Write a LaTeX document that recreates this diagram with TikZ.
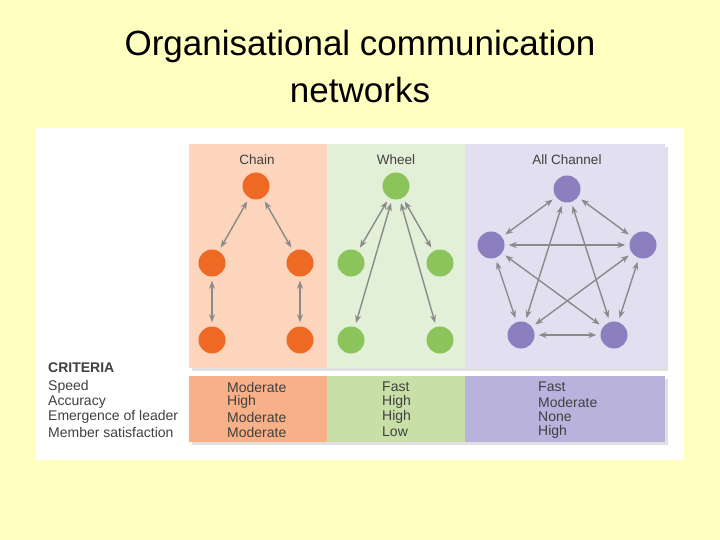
\documentclass[tikz,border=0pt]{standalone}
\usepackage{fontspec}
\setmainfont{Liberation Sans}
\usetikzlibrary{arrows.meta}
\definecolor{bg}{HTML}{FFFFC0}
\definecolor{orn}{HTML}{EE6A24}
\definecolor{grn}{HTML}{8BC45A}
\definecolor{pur}{HTML}{8C7FC0}
\definecolor{orpan}{HTML}{FCD5BC}
\definecolor{grpan}{HTML}{E3F0D8}
\definecolor{pupan}{HTML}{E2DFF0}
\definecolor{ortab}{HTML}{F8B088}
\definecolor{grtab}{HTML}{C8E0A8}
\definecolor{putab}{HTML}{B9B2DC}
\definecolor{arr}{HTML}{8A8A8A}
\begin{document}
\begin{tikzpicture}[x=1pt,y=-1pt,
  dot/.style={circle,minimum size=27pt,inner sep=0pt},
  link/.style={arr,line width=1.4pt,{Stealth[length=8pt,width=6pt]}-{Stealth[length=8pt,width=6pt]},shorten <=4pt,shorten >=4pt},
  ttl/.style={font=\fontsize{13.5}{14}\selectfont,text=black!75},
  lbl/.style={font=\fontsize{14}{14}\selectfont,text=black!75,anchor=west,inner sep=0pt}]
\fill[bg] (0,0) rectangle (720,540);
\useasboundingbox (0,0) rectangle (720,540);
\node[font=\fontsize{35}{40}\selectfont] (t1) at (360,46) {Organisational communication};
\node[font=\fontsize{35}{40}\selectfont] (t2) at (360,90) {networks};
\fill[white] (36,128) rectangle (684,460);
\fill[black!12] (192,147) rectangle (668,371);
\fill[black!12] (192,379) rectangle (668,445);
\fill[orpan] (189,144) rectangle (327,368);
\fill[grpan] (327,144) rectangle (465,368);
\fill[pupan] (465,144) rectangle (665,368);
\fill[ortab] (189,376) rectangle (327,442);
\fill[grtab] (327,376) rectangle (465,442);
\fill[putab] (465,376) rectangle (665,442);
\node[ttl] (hc) at (257,160) {Chain};
\node[ttl] (hw) at (396,160) {Wheel};
\node[ttl] (ha) at (567,160) {All Channel};
% chain
\node[dot,fill=orn] (c1) at (256,186) {};
\node[dot,fill=orn] (c2) at (212,263) {};
\node[dot,fill=orn] (c3) at (300,263) {};
\node[dot,fill=orn] (c4) at (212,340) {};
\node[dot,fill=orn] (c5) at (300,340) {};
\draw[link] (c1)--(c2); \draw[link] (c1)--(c3);
\draw[link] (c2)--(c4); \draw[link] (c3)--(c5);
% wheel
\node[dot,fill=grn] (w1) at (396,186) {};
\node[dot,fill=grn] (w2) at (351,263) {};
\node[dot,fill=grn] (w3) at (440,263) {};
\node[dot,fill=grn] (w4) at (351,340) {};
\node[dot,fill=grn] (w5) at (440,340) {};
\foreach \n in {w2,w3,w4,w5} \draw[link] (w1)--(\n);
% all channel
\node[dot,fill=pur] (a1) at (567,189) {};
\node[dot,fill=pur] (a2) at (491,245) {};
\node[dot,fill=pur] (a3) at (643,245) {};
\node[dot,fill=pur] (a4) at (521,335) {};
\node[dot,fill=pur] (a5) at (614,335) {};
\foreach \a/\b in {a1/a2,a1/a3,a1/a4,a1/a5,a2/a3,a2/a4,a2/a5,a3/a4,a3/a5,a4/a5} \draw[link] (\a)--(\b);
% criteria
\node[lbl,font=\bfseries\fontsize{14}{14}\selectfont] (cr) at (48,368) {CRITERIA};
\node[lbl] (r1) at (48,387) {Speed};
\node[lbl] (r2) at (48,402) {Accuracy};
\node[lbl] (r3) at (48,417) {Emergence of leader};
\node[lbl] (r4) at (48,432) {Member satisfaction};
\node[lbl] (c1a) at (227,387) {Moderate};
\node[lbl] (c1b) at (227,402) {High};
\node[lbl] (c1c) at (227,417) {Moderate};
\node[lbl] (c1d) at (227,432) {Moderate};
\node[lbl] (w1a) at (382,387) {Fast};
\node[lbl] (w1b) at (382,402) {High};
\node[lbl] (w1c) at (382,417) {High};
\node[lbl] (w1d) at (382,432) {Low};
\node[lbl] (a1a) at (538,387) {Fast};
\node[lbl] (a1b) at (538,402) {Moderate};
\node[lbl] (a1c) at (538,417) {None};
\node[lbl] (a1d) at (538,432) {High};
\end{tikzpicture}
\end{document}
